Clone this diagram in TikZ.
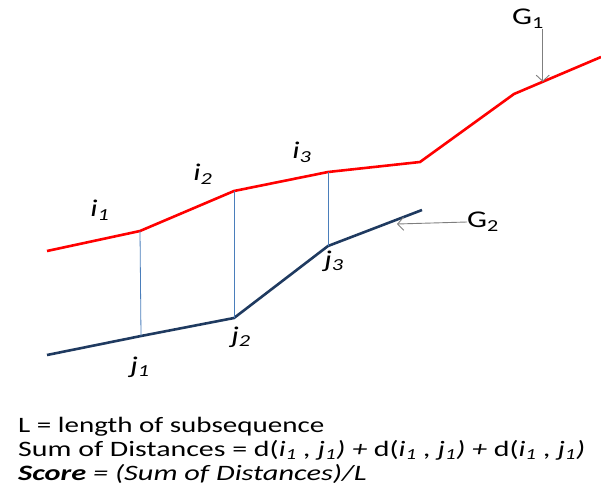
\documentclass[tikz,border=0pt]{standalone}
\usepackage{fontspec}
\setmainfont{Carlito}
\usetikzlibrary{arrows.meta,calc}
\definecolor{seqred}{HTML}{FF0000}
\definecolor{seqblue}{HTML}{1F3A60}
\definecolor{linkblue}{HTML}{4A7EBB}
\definecolor{pointgray}{HTML}{7F7F7F}
\newcommand{\wide}[2][1.32]{\scalebox{#1}[1]{#2}}

\begin{document}
\begin{tikzpicture}[x=1pt,y=-1pt,font=\fontsize{22}{24}\selectfont,
  seq/.style={line width=2.6pt,line join=round},
  link/.style={linkblue,line width=0.8pt},
  pointer/.style={pointgray,line width=0.9pt,-{Straight Barb[length=6pt,width=13pt]}},
  lbl/.style={font=\fontsize{24}{24}\selectfont\itshape,inner sep=0pt},
  txtline/.style={anchor=base west,inner sep=0pt}]
\useasboundingbox (0,0) rectangle (601,489);
% sequence G1 (red)
\coordinate (r0) at (47,251);
\coordinate (r1) at (140,231);
\coordinate (r2) at (234,191);
\coordinate (r3) at (328,172);
\coordinate (r4) at (420,162);
\coordinate (r5) at (514,94);
\coordinate (r6) at (601,57);
\draw[seq,seqred] (r0) -- (r1) -- (r2) -- (r3) -- (r4) -- (r5) -- (r6);
% sequence G2 (blue)
\coordinate (b0) at (47,355);
\coordinate (b1) at (141,336);
\coordinate (b2) at (234,318);
\coordinate (b3) at (328,246);
\coordinate (b4) at (422,210);
\draw[seq,seqblue] (b0) -- (b1) -- (b2) -- (b3) -- (b4);
% matched pairs
\draw[link] (r1) -- (b1);
\draw[link] (r2) -- (b2);
\draw[link] (r3) -- (b3);
\node[lbl] (i1) at (100,210) {\wide{i\textsubscript{1}}};
\node[lbl] (i2) at (203,174) {\wide{i\textsubscript{2}}};
\node[lbl] (i3) at (302,152) {\wide{i\textsubscript{3}}};
\node[lbl] (j1) at (140,367) {\wide{j\textsubscript{1}}};
\node[lbl] (j2) at (241,337) {\wide{j\textsubscript{2}}};
\node[lbl] (j3) at (334,261) {\wide{j\textsubscript{3}}};
% sequence names
\coordinate (g1tip) at ($(r5)!0.33!(r6)$);
\coordinate (g2tip) at (397,224);
\node[inner sep=0pt,font=\fontsize{24}{24}\selectfont] (g1) at (528,19) {\wide{G\textsubscript{1}}};
\node[inner sep=0pt,anchor=west,font=\fontsize{24}{24}\selectfont] (g2) at (467,222) {\wide{G\textsubscript{2}}};
\draw[pointer] (g1tip |- g1.south) -- (g1tip);
\draw[pointer] (g2.west) -- (g2tip);
% formula
\node[txtline] (len) at (18,432) {\wide{L = length of subsequence}};
\node[txtline] (sum) at (18,456) {\wide[1.36]{Sum of Distances = d(\textit{i\textsubscript{1} , j\textsubscript{1}) + }d(\textit{i\textsubscript{1} , j\textsubscript{1}) + }d(\textit{i\textsubscript{1} , j\textsubscript{1})}}};
\node[txtline] (score) at (18,480) {\wide[1.38]{\textbf{\textit{Score}} \textit{= (Sum of Distances)/L}}};
\end{tikzpicture}
\end{document}
